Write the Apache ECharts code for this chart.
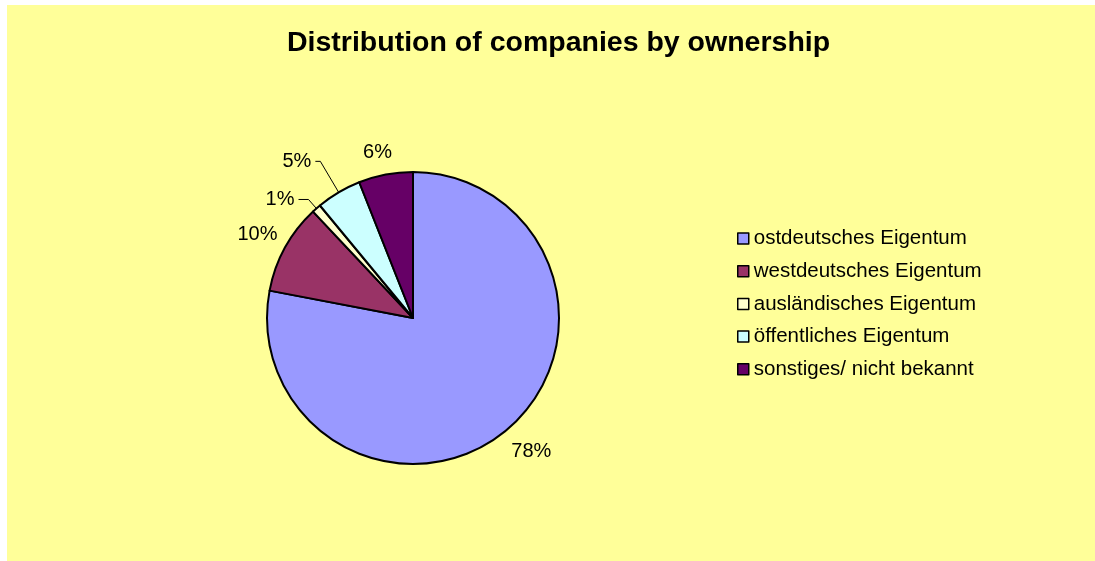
<!DOCTYPE html>
<html>
<head>
<meta charset="utf-8">
<title>Distribution of companies by ownership</title>
<script src="https://cdn.jsdelivr.net/npm/echarts@6/dist/echarts.min.js"></script>
<style>
  html, body { margin: 0; padding: 0; background: #ffffff; }
  #chart { position: absolute; left: 7px; top: 5px; width: 1088px; height: 556px; }
</style>
</head>
<body>
<div id="chart"></div>
<script>
// Ownership categories (legend order, drawn clockwise from 12 o'clock)
const categories = [
  'ostdeutsches Eigentum',
  'westdeutsches Eigentum',
  'ausländisches Eigentum',
  'öffentliches Eigentum',
  'sonstiges/ nicht bekannt'
];
// Share of companies, in percent
const shares = [78, 10, 1, 5, 6];
const sliceColors = ['#9999FF', '#993366', '#FFFFCC', '#CCFFFF', '#660066'];

const FONT = "'Liberation Sans', Arial, sans-serif";

// Label placement per slice: leader length, horizontal tail, leader visibility
const labelLines = [
  { length: 27, length2: 4, show: false },
  { length: 27, length2: 0, show: false },
  { length: 12, length2: 10, show: true },
  { length: 36, length2: 5, show: true },
  { length: 22, length2: 0, show: false }
];

const chart = echarts.init(document.getElementById('chart'));

chart.setOption({
  backgroundColor: '#FFFF99',
  animation: false,
  title: {
    text: 'Distribution of companies by ownership',
    left: 280,
    top: 24,
    padding: 0,
    textStyle: { fontFamily: FONT, fontSize: 28.5, fontWeight: 'bold', color: '#000' }
  },
  legend: {
    orient: 'vertical',
    left: 725,
    top: 218,
    itemWidth: 11,
    itemHeight: 11,
    itemGap: 11.7,
    icon: 'rect',
    itemStyle: { borderColor: '#000', borderWidth: 1.5 },
    textStyle: { fontFamily: FONT, fontSize: 20.5, lineHeight: 20, color: '#000' },
    data: categories
  },
  series: [{
    type: 'pie',
    center: [406, 313],
    radius: 146,
    startAngle: 90,
    clockwise: true,
    percentPrecision: 0,
    avoidLabelOverlap: false,
    itemStyle: { borderColor: '#000', borderWidth: 2 },
    emphasis: { disabled: true },
    label: {
      show: true,
      position: 'outside',
      formatter: '{d}%',
      fontFamily: FONT,
      fontSize: 20,
      color: '#000',
      distanceToLabelLine: 4
    },
    labelLine: {
      lineStyle: { color: '#000', width: 1 }
    },
    labelLayout: function (params) {
      // labels without a leader sit centred on their anchor point
      return labelLines[params.dataIndex].show ? {} : { align: 'center' };
    },
    data: categories.map((name, i) => ({
      name: name,
      value: shares[i],
      itemStyle: { color: sliceColors[i] },
      labelLine: {
        show: labelLines[i].show,
        length: labelLines[i].length,
        length2: labelLines[i].length2
      }
    }))
  }]
});
</script>
</body>
</html>
